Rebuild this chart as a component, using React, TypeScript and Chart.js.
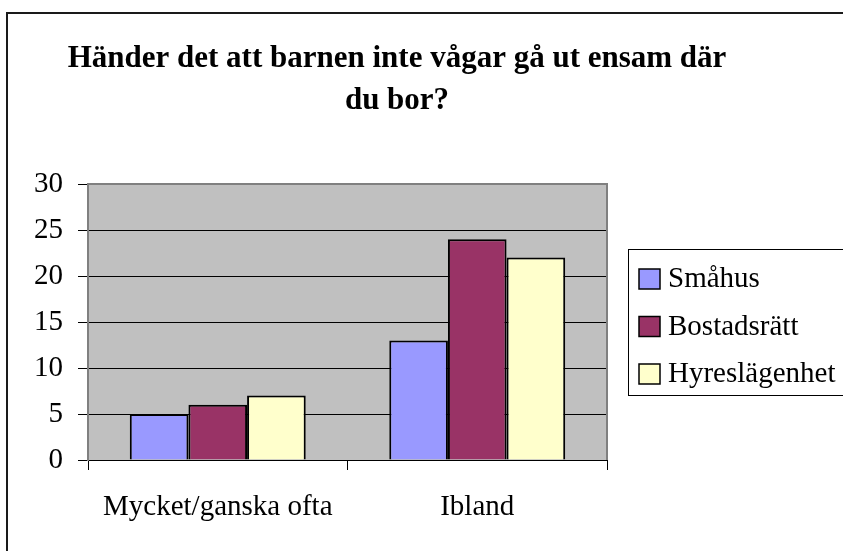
import React, { useEffect, useRef } from "react";
import { Chart, registerables } from "chart.js";

Chart.register(...registerables);

const TITLE_LINES = ["Händer det att barnen inte vågar gå ut ensam där", "du bor?"];
const CATEGORIES = ["Mycket/ganska ofta", "Ibland"];
const SERIES_NAMES = ["Småhus", "Bostadsrätt", "Hyreslägenhet"];
const SMAHUS = [5, 13];
const BOSTADSRATT = [6, 24];
const HYRESLAGENHET = [7, 22];
const SERIES_COLORS = ["#9999FF", "#993366", "#FFFFCC"];
const Y_MIN = 0;
const Y_MAX = 30;
const Y_STEP = 5;

const FONT = '"Liberation Serif", "Times New Roman", serif';
const W = 843;
const H = 551;

const excelFrame = {
  id: "excelFrame",
  beforeDraw(chart: any) {
    const { ctx, chartArea: a } = chart;
    ctx.save();
    ctx.fillStyle = "#ffffff";
    ctx.fillRect(0, 0, chart.width, chart.height);
    ctx.fillStyle = "#C0C0C0";
    ctx.fillRect(a.left, a.top, a.right - a.left, a.bottom - a.top);
    ctx.restore();
  },
  beforeDatasetsDraw(chart: any) {
    const { ctx, chartArea: a } = chart;
    ctx.save();
    ctx.strokeStyle = "#808080";
    ctx.lineWidth = 2;
    ctx.beginPath();
    ctx.moveTo(a.left, a.top);
    ctx.lineTo(a.right, a.top);
    ctx.lineTo(a.right, a.bottom);
    ctx.stroke();
    ctx.restore();
  },
  afterDraw(chart: any) {
    const { ctx, chartArea: a } = chart;
    ctx.save();
    // outer chart border (only left and top visible)
    ctx.strokeStyle = "#1a1a1a";
    ctx.lineWidth = 2;
    ctx.strokeRect(7, 13, W + 50, H + 50);

    // title
    ctx.fillStyle = "#000";
    ctx.font = `bold 31px ${FONT}`;
    ctx.textAlign = "center";
    ctx.textBaseline = "alphabetic";
    TITLE_LINES.forEach((t, i) => ctx.fillText(t, 397, 67 + i * 42));

    // legend
    const lx = a.right + 21;
    const lyTop = (a.top + a.bottom) / 2 - 73;
    ctx.strokeStyle = "#000";
    ctx.lineWidth = 1;
    ctx.strokeRect(lx + 0.5, lyTop + 0.5, 400, 146);
    chart.data.datasets.forEach((ds: any, i: number) => {
      const cy = lyTop + 30 + i * 47.5;
      ctx.fillStyle = ds.backgroundColor;
      ctx.fillRect(lx + 11, cy - 10, 21, 20);
      ctx.lineWidth = 1.5;
      ctx.strokeStyle = "#000";
      ctx.strokeRect(lx + 11, cy - 10, 21, 20);
      ctx.fillStyle = "#000";
      ctx.font = `29px ${FONT}`;
      ctx.textAlign = "left";
      ctx.textBaseline = "alphabetic";
      ctx.fillText(ds.label, lx + 40, cy + 8);
    });
    ctx.restore();
  },
};

export default function App() {
  const ref = useRef<HTMLCanvasElement | null>(null);

  useEffect(() => {
    if (!ref.current) return;
    const seriesValues = [SMAHUS, BOSTADSRATT, HYRESLAGENHET];
    const chart = new Chart(ref.current, {
      type: "bar",
      data: {
        labels: CATEGORIES,
        datasets: SERIES_NAMES.map((name, i) => ({
          label: name,
          data: seriesValues[i],
          backgroundColor: SERIES_COLORS[i],
          borderColor: "#000",
          borderWidth: 2,
          categoryPercentage: 0.678,
          barPercentage: 1.0,
        })),
      },
      options: {
        responsive: false,
        animation: false,
        devicePixelRatio: 1,
        layout: { padding: { top: 184, right: 236, left: 0, bottom: 11 } },
        plugins: {
          legend: { display: false },
          title: { display: false },
          tooltip: { enabled: false },
        },
        scales: {
          x: {
            afterFit: (scale: any) => {
              scale.height = 80;
            },
            grid: {
              display: true,
              drawOnChartArea: false,
              drawTicks: true,
              tickLength: 10,
              color: "#000",
              offset: true,
            },
            border: { display: true, color: "#000", width: 1 },
            ticks: {
              color: "#000",
              font: { family: FONT, size: 29 },
              padding: 20,
              maxRotation: 0,
            },
          },
          y: {
            min: Y_MIN,
            max: Y_MAX,
            afterFit: (scale: any) => {
              scale.width = 88;
            },
            grid: {
              color: "#000",
              lineWidth: 1,
              drawTicks: true,
              tickLength: 10,
            },
            border: { display: true, color: "#808080", width: 2 },
            ticks: {
              stepSize: Y_STEP,
              color: "#000",
              font: { family: FONT, size: 29 },
              padding: 15,
            },
          },
        },
      },
      plugins: [excelFrame],
    });
    return () => chart.destroy();
  }, []);

  return (
    <div style={{ position: "absolute", left: 0, top: 0, width: W, height: H, overflow: "hidden", background: "#fff" }}>
      <canvas ref={ref} width={W} height={H} style={{ display: "block" }} />
    </div>
  );
}
